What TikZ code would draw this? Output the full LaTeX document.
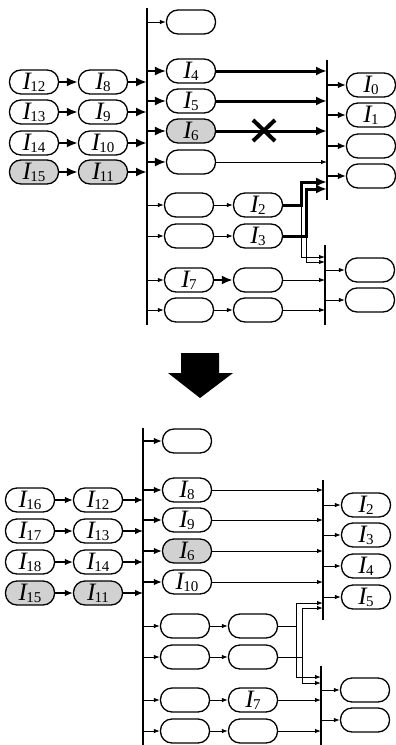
\documentclass[tikz,border=0pt]{standalone}
\usepackage{fontspec}
\setmainfont{Liberation Serif}
\usetikzlibrary{arrows.meta}
\newcommand{\lab}[1]{{\fontsize{25}{25}\selectfont\itshape I}\kern-0.8pt\raisebox{-1.8pt}{\fontsize{15}{15}\selectfont #1}}
\begin{document}
\begin{tikzpicture}[x=1pt,y=-1pt,
  box/.style={draw, line width=1.3pt, rounded corners=11.5pt, minimum width=49pt, minimum height=24pt, inner sep=0pt},
  shaded/.style={box, fill=black!18},
  tarr/.style={line width=1pt, -{Latex[length=6pt,width=4.5pt]}},
  marr/.style={line width=1.2pt, -{Latex[length=8pt,width=6.5pt]}},
  barr/.style={line width=1.5pt, -{Latex[length=11pt,width=9pt]}},
  karr/.style={line width=2.2pt, -{Latex[length=11pt,width=9pt]}},
  heavy/.style={line width=3pt, -{Latex[length=11pt,width=9pt]}},
  bar/.style={line width=1.5pt}
]
\useasboundingbox (0,0) rectangle (396,745);

% ================= TOP HALF =================
\draw[bar] (147,8) coordinate (L1t) -- (147,325);
\draw[bar] (327,60) coordinate (R1t) -- (327,200);
\draw[bar] (325,245) coordinate (R2t) -- (325,325);

\node[box] (t0) at (191,22) {};
\node[box] (a1) at (34,82) {\lab{12}};
\node[box] (a2) at (34,112) {\lab{13}};
\node[box] (a3) at (34,143) {\lab{14}};
\node[shaded] (a4) at (34,172) {\lab{15}};
\node[box] (b1) at (103,82) {\lab{8}};
\node[box] (b2) at (103,112) {\lab{9}};
\node[box] (b3) at (103,143) {\lab{10}};
\node[shaded] (b4) at (103,172) {\lab{11}};
\node[box] (c1) at (191,71) {\lab{4}};
\node[box] (c2) at (191,101) {\lab{5}};
\node[shaded] (c3) at (191,131) {\lab{6}};
\node[box] (c4) at (191,162) {};
\node[box] (d1) at (371,85) {\lab{0}};
\node[box] (d2) at (371,115) {\lab{1}};
\node[box] (d3) at (371,146) {};
\node[box] (d4) at (371,176) {};
\node[box] (e11) at (189,205) {};
\node[box] (e12) at (258,205) {\lab{2}};
\node[box] (e21) at (189,236) {};
\node[box] (e22) at (258,236) {\lab{3}};
\node[box] (e31) at (189,280) {\lab{7}};
\node[box] (e32) at (258,280) {};
\node[box] (e41) at (189,310) {};
\node[box] (e42) at (258,310) {};
\node[box] (f1) at (370,270) {};
\node[box] (f2) at (370,300) {};

\foreach \i in {1,...,4} {
  \draw[karr] (a\i) -- (b\i);
  \draw[karr] (b\i.east) -- (b\i.east -| L1t);
  \draw[barr] (c\i.west -| L1t) -- (c\i.west);
  \draw[marr] (d\i.west -| R1t) -- (d\i.west);
  \draw[tarr] (e\i1.west -| L1t) -- (e\i1.west);
}
\draw[tarr] (t0.west -| L1t) -- (t0.west);
\foreach \i in {1,2,3} { \draw[heavy] (c\i.east) -- (c\i.east -| R1t); }
\draw[tarr] (c4.east) -- (c4.east -| R1t);
\draw[line width=4pt] (253,120) -- (275,141) (253,141) -- (275,120);

\draw[tarr] (e11) -- (e12);
\draw[tarr] (e21) -- (e22);
\draw[karr] (e31) -- (e32);
\draw[tarr] (e41) -- (e42);
\draw[tarr] (e32.east) -- (e32.east -| R2t);
\draw[tarr] (e42.east) -- (e42.east -| R2t);
\draw[tarr] (f1.west -| R2t) -- (f1.west);
\draw[tarr] (f2.west -| R2t) -- (f2.west);

\coordinate (v1) at (301,182);
\coordinate (v2) at (306,189);
\coordinate (w1) at (301,257);
\coordinate (w2) at (306,262);
\draw[tarr] (e12.east -| v1) -- (w1) -- (w1 -| R2t);
\draw[tarr] (e22.east -| v2) -- (w2) -- (w2 -| R2t);
\draw[heavy] (e12.east) -| (v1) -- (v1 -| R1t);
\draw[heavy] (e22.east) -| (v2) -- (v2 -| R1t);

% ================= BIG ARROW =================
\fill (181,353) -- (219,353) -- (219,373) -- (233,373) -- (200,398) -- (168,373) -- (181,373) -- cycle;

% ================= BOTTOM HALF =================
\draw[bar] (143,428) coordinate (L2t) -- (143,745);
\draw[bar] (323,480) coordinate (R3t) -- (323,620);
\draw[bar] (321,666) coordinate (R4t) -- (321,745);

\node[box] (s0) at (187,441) {};
\node[box] (p1) at (30,500) {\lab{16}};
\node[box] (p2) at (30,531) {\lab{17}};
\node[box] (p3) at (30,562) {\lab{18}};
\node[shaded] (p4) at (30,593) {\lab{15}};
\node[box] (q1) at (98,500) {\lab{12}};
\node[box] (q2) at (98,531) {\lab{13}};
\node[box] (q3) at (98,562) {\lab{14}};
\node[shaded] (q4) at (98,593) {\lab{11}};
\node[box] (r1) at (187,490) {\lab{8}};
\node[box] (r2) at (187,520) {\lab{9}};
\node[shaded] (r3) at (187,551) {\lab{6}};
\node[box] (r4) at (187,582) {\lab{10}};
\node[box] (u1) at (366,505) {\lab{2}};
\node[box] (u2) at (366,535) {\lab{3}};
\node[box] (u3) at (366,566) {\lab{4}};
\node[box] (u4) at (366,597) {\lab{5}};
\node[box] (g11) at (185,626) {};
\node[box] (g12) at (253,626) {};
\node[box] (g21) at (185,657) {};
\node[box] (g22) at (253,657) {};
\node[box] (g31) at (185,700) {};
\node[box] (g32) at (253,700) {\lab{7}};
\node[box] (g41) at (185,731) {};
\node[box] (g42) at (253,731) {};
\node[box] (h1) at (365,690) {};
\node[box] (h2) at (365,720) {};

\foreach \i in {1,...,4} {
  \draw[marr] (p\i) -- (q\i);
  \draw[marr] (q\i.east) -- (q\i.east -| L2t);
  \draw[marr] (r\i.west -| L2t) -- (r\i.west);
  \draw[tarr] (r\i.east) -- (r\i.east -| R3t);
  \draw[tarr] (u\i.west -| R3t) -- (u\i.west);
  \draw[tarr] (g\i1.west -| L2t) -- (g\i1.west);
  \draw[tarr] (g\i1) -- (g\i2);
}
\draw[marr] (s0.west -| L2t) -- (s0.west);
\draw[tarr] (g32.east) -- (g32.east -| R4t);
\draw[tarr] (g42.east) -- (g42.east -| R4t);
\draw[tarr] (h1.west -| R4t) -- (h1.west);
\draw[tarr] (h2.west -| R4t) -- (h2.west);

\coordinate (x1) at (296,603);
\coordinate (x2) at (302,608);
\coordinate (y1) at (296,677);
\coordinate (y2) at (302,683);
\draw[tarr] (g12.east) -| (x1) -- (x1 -| R3t);
\draw[tarr] (g12.east -| x1) -- (y1) -- (y1 -| R4t);
\draw[tarr] (g22.east) -| (x2) -- (x2 -| R3t);
\draw[tarr] (g22.east -| x2) -- (y2) -- (y2 -| R4t);
\end{tikzpicture}
\end{document}
